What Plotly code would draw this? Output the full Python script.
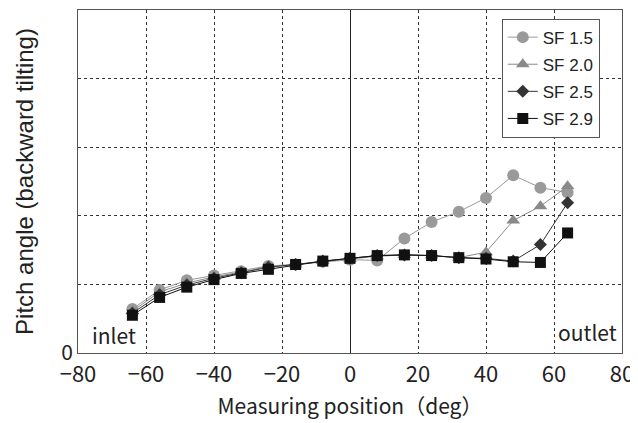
import plotly.graph_objects as go

positions = [-64, -56, -48, -40, -32, -24, -16, -8, 0, 8, 16, 24, 32, 40, 48, 56, 64]
sf15 = [0.64, 0.92, 1.06, 1.13, 1.19, 1.27, 1.29, 1.33, 1.36, 1.35, 1.67, 1.91, 2.06, 2.26, 2.59, 2.41, 2.34]
sf20 = [0.61, 0.89, 1.02, 1.11, 1.18, 1.26, 1.29, 1.34, 1.37, 1.41, 1.43, 1.42, 1.39, 1.47, 1.93, 2.14, 2.43]
sf25 = [0.58, 0.85, 0.99, 1.09, 1.17, 1.25, 1.29, 1.34, 1.38, 1.42, 1.43, 1.42, 1.39, 1.38, 1.34, 1.58, 2.19]
sf29 = [0.55, 0.81, 0.96, 1.07, 1.16, 1.22, 1.29, 1.34, 1.38, 1.42, 1.43, 1.42, 1.39, 1.37, 1.33, 1.32, 1.75]
series_names = ["SF 1.5", "SF 2.0", "SF 2.5", "SF 2.9"]
x_ticks = [-80, -60, -40, -20, 0, 20, 40, 60, 80]
y_ticks = [0, 1, 2, 3, 4, 5]
y_ticktext = ["0", "", "", "", "", ""]

FONT = "Noto Sans CJK JP, Noto Sans, sans-serif"
SANS = "Liberation Sans, Arial, sans-serif"

styles = [
    dict(color="#9a9a9a", symbol="circle", size=12),
    dict(color="#8a8a8a", symbol="triangle-up", size=12),
    dict(color="#333333", symbol="diamond", size=10),
    dict(color="#111111", symbol="square", size=11),
]

fig = go.Figure()
for i, (name, vals, st) in enumerate(zip(series_names, [sf15, sf20, sf25, sf29], styles)):
    fig.add_trace(go.Scatter(
        x=positions, y=vals, name=name, mode="lines+markers", legendgroup=f"g{i}",
        line=dict(color=st["color"], width=1),
        marker=dict(color=st["color"], symbol=st["symbol"], size=st["size"]),
    ))

fig.add_annotation(x=-80, y=0, xref="x", yref="y", text="inlet", showarrow=False,
                   xanchor="left", yanchor="bottom", xshift=12, yshift=1,
                   font=dict(family=FONT, size=21, color="#222"))
fig.add_annotation(x=80, y=0, xref="x", yref="y", text="outlet", showarrow=False,
                   xanchor="right", yanchor="bottom", xshift=-3, yshift=4,
                   font=dict(family=FONT, size=21, color="#222"))

# the page body adds an 8px offset, so the figure is 8px smaller
fig.update_layout(
    width=630, height=415,
    margin=dict(l=70, r=16, t=2, b=70),
    paper_bgcolor="white", plot_bgcolor="white",
    font=dict(family=FONT, color="#222"),
    showlegend=True,
    legend=dict(x=0.779, y=0.975, xanchor="left", yanchor="top",
                bordercolor="#555", borderwidth=1, bgcolor="white",
                tracegroupgap=2,
                font=dict(family=SANS, size=17, color="#222")),
)
fig.update_xaxes(range=[-80, 80], tickvals=x_ticks, showgrid=True, automargin=False,
                 gridcolor="#333", griddash="dot", gridwidth=1,
                 zeroline=True, zerolinecolor="#222", zerolinewidth=1,
                 showline=True, linecolor="#555", mirror=True, ticks="",
                 ticklabelstandoff=2,
                 tickfont=dict(family=FONT, size=22, color="#222"),
                 title=dict(text="Measuring position（deg）", font=dict(family=FONT, size=21, color="#222"), standoff=11))
fig.update_yaxes(range=[0, 5], tickvals=y_ticks, ticktext=y_ticktext, showgrid=True, automargin=False,
                 gridcolor="#333", griddash="dot", gridwidth=1, zeroline=False,
                 showline=True, linecolor="#555", mirror=True, ticks="",
                 tickfont=dict(family=FONT, size=21, color="#222"),
                 title=dict(text="Pitch angle (backward tilting)", font=dict(family=SANS, size=24, color="#222"), standoff=20))

fig.write_html("out.html")
